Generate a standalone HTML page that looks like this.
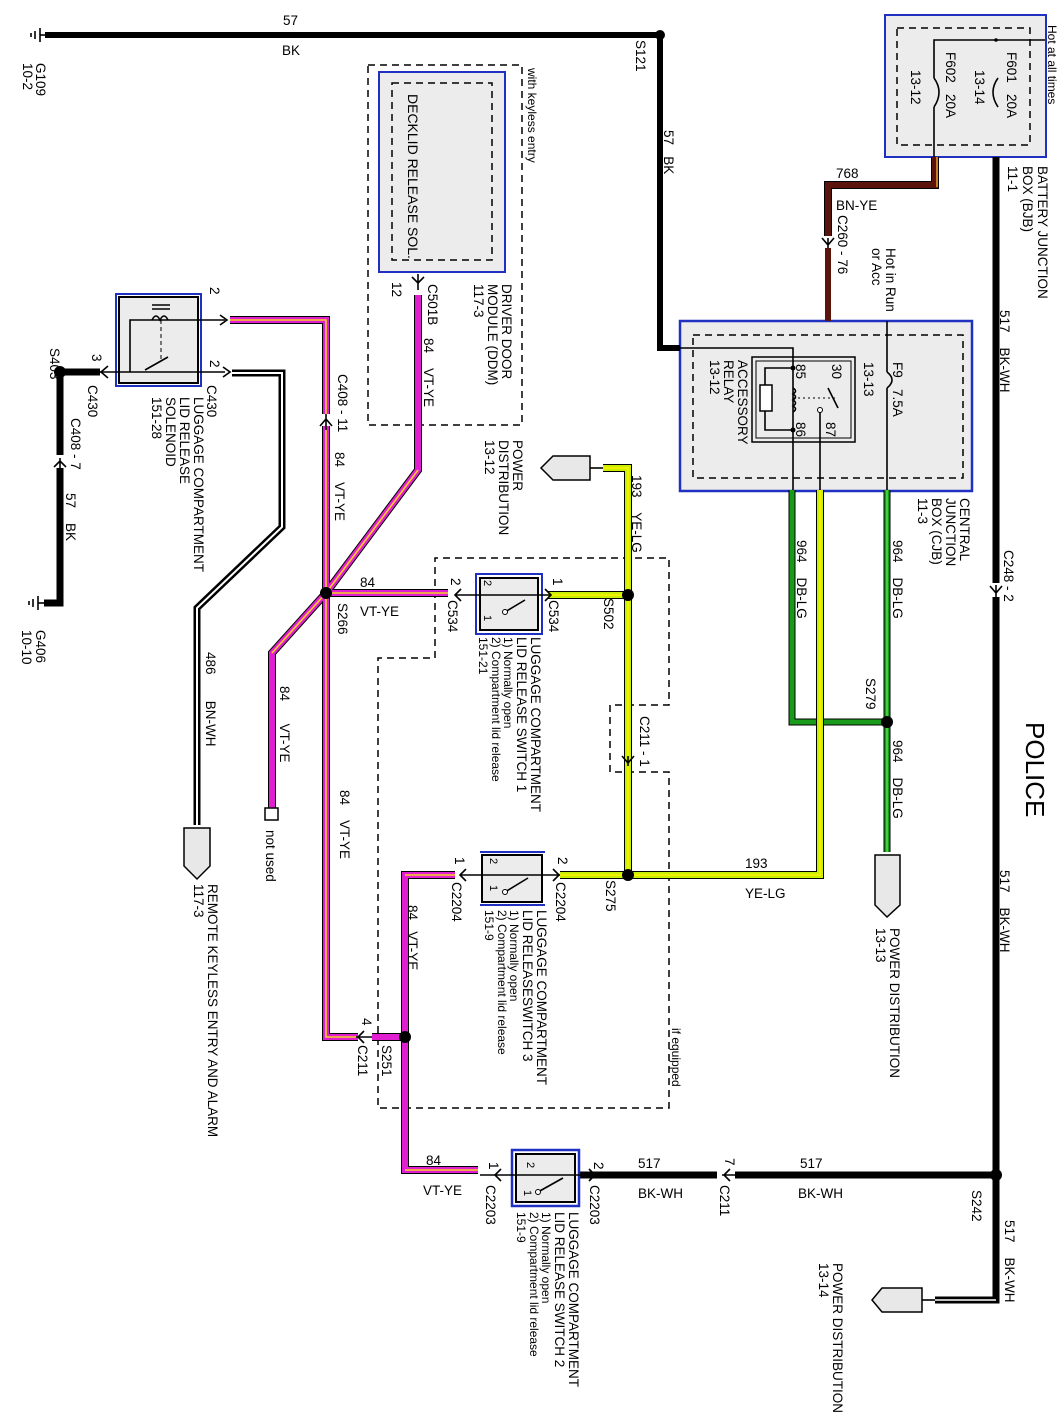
<!DOCTYPE html>
<html><head><meta charset="utf-8"><style>
html,body{margin:0;padding:0;background:#fff}
svg{display:block}
text{font-family:"Liberation Sans",Arial,sans-serif;font-size:13.5px;fill:#000;white-space:pre}
.o{fill:none;stroke:#000;stroke-width:8;stroke-linejoin:miter}
.vt{fill:none;stroke:#e020d0;stroke-width:6}
.ye{fill:none;stroke:#f5d020;stroke-width:1.6}
.lg{fill:none;stroke:#c8f000;stroke-width:6}
.yl{fill:none;stroke:#f0f000;stroke-width:2}
.dg{fill:none;stroke:#1a9a1a;stroke-width:5}
.lgs{fill:none;stroke:#50e050;stroke-width:1.5}
.bk{fill:none;stroke:#000;stroke-width:7}
.wh{fill:none;stroke:#fff;stroke-width:2}
.dash{fill:none;stroke:#000;stroke-width:1.5;stroke-dasharray:7,5}
.th{fill:none;stroke:#000;stroke-width:1.6}
.s{font-size:12px}
</style></head><body>
<svg width="1064" height="1428" viewBox="0 0 1064 1428" xmlns="http://www.w3.org/2000/svg">
<!-- boxes -->
<rect x="885" y="15" width="161" height="142" fill="#ececec" stroke="#2030c0" stroke-width="2"/>
<rect x="897" y="28" width="133" height="117" class="dash"/>
<rect x="680" y="321" width="292" height="170" fill="#ececec" stroke="#2030c0" stroke-width="2.5"/>
<rect x="693" y="335" width="270" height="143" class="dash"/>
<rect x="752" y="357" width="103" height="85" fill="none" stroke="#000" stroke-width="1.5"/>
<rect x="756" y="361" width="95" height="77" fill="none" stroke="#000" stroke-width="1"/>
<rect x="368" y="65" width="154" height="360" class="dash"/>
<rect x="379" y="72" width="126" height="200" fill="#ececec" stroke="#2030c0" stroke-width="2"/>
<rect x="392" y="83" width="100" height="177" class="dash"/>
<path d="M435,658 L435,558 L669,558 L669,705 L610,705 L610,772 L669,772 L669,1108 L378,1108 L378,658 Z" class="dash"/>

<!-- top BK wire -->
<polyline points="45,35 660,35 660,348 680,348" class="bk" style="stroke-width:6"/>
<polyline points="680,348 793,348 793,490" class="th"/>
<circle cx="660" cy="35" r="5"/>
<line x1="40" y1="28" x2="40" y2="42" class="th"/><line x1="40" y1="35" x2="48" y2="35" class="th"/>
<line x1="35" y1="31" x2="35" y2="39" class="th"/><line x1="31" y1="33" x2="31" y2="37" class="th"/>

<!-- BN-YE 768 -->
<polyline points="935,157 935,185 828,185 828,236" fill="none" stroke="#000" stroke-width="8"/>
<polyline points="935,157 935,185 828,185 828,236" fill="none" stroke="#5a140c" stroke-width="6"/>
<polyline points="937,157 937,187" fill="none" stroke="#f0a030" stroke-width="1.5"/>
<polyline points="828,248 828,321" fill="none" stroke="#5a140c" stroke-width="6"/>
<path d="M822,238 L828,245 L834,238 M828,238 L828,248" class="th"/>
<!-- BJB internal line -->
<polyline points="934,157 934,107" class="th"/>
<path d="M934,107 Q944,92 934,78" class="th"/>
<polyline points="934,78 934,40 1045,40" class="th"/>
<circle cx="996" cy="40" r="1.8"/>
<path d="M998,78 Q988,92 998,107" class="th"/>

<!-- BK-WH 517 main -->
<polyline points="996,157 996,583" class="bk"/>
<polyline points="996,597 996,1300 935,1300" class="bk"/>
<polyline points="996,1300 935,1300" class="wh" style="stroke-width:1.5"/>
<path d="M990,586 L996,593 L1002,586 M996,585 L996,597" class="th"/>
<circle cx="996" cy="1175" r="6"/>
<polyline points="580,1175 717,1175" class="bk"/>
<polyline points="735,1175 996,1175" class="bk"/>
<path d="M730,1169 L724,1175 L730,1181 M722,1175 L735,1175" class="th"/>

<!-- F9 fuse -->
<path d="M887,372 Q897,380 887,388" class="th"/>
<line x1="887" y1="321" x2="887" y2="372" class="th"/><line x1="887" y1="388" x2="887" y2="490" class="th"/>
<!-- relay internals -->
<polyline points="793,368 765,368 765,430 793,430" class="th"/>
<rect x="760" y="385" width="12" height="26" fill="#fff" stroke="#000" stroke-width="1.5"/>
<path d="M793,388 q5,3 0,6 q5,3 0,6 q5,3 0,6 q5,3 0,6" class="th"/>
<line x1="793" y1="398" x2="835" y2="398" stroke="#000" stroke-dasharray="2,3"/>
<line x1="828" y1="388" x2="838" y2="408" class="th"/>
<circle cx="820" cy="410" r="2.5" fill="#fff" stroke="#000"/>
<line x1="820" y1="412" x2="820" y2="490" class="th"/>
<circle cx="793" cy="368" r="2.5"/><circle cx="793" cy="430" r="2.5"/>

<!-- DB-LG -->
<polyline points="792,490 792,722 887,722" fill="none" stroke="#000" stroke-width="7"/>
<polyline points="792,490 792,722 887,722" class="dg"/>
<polyline points="887,490 887,852" fill="none" stroke="#000" stroke-width="7"/>
<polyline points="887,490 887,852" class="dg"/>
<polyline points="887,490 887,852" class="lgs"/>
<circle cx="887" cy="722" r="6"/>

<!-- YE-LG -->
<polyline points="603,468 628,468 628,875 820,875 820,490" class="o" style="stroke-width:8"/>
<polyline points="603,468 628,468 628,875 820,875 820,490" class="lg"/>
<polyline points="603,468 628,468 628,875 820,875 820,490" class="yl"/>
<polyline points="548,595 628,595" class="o"/><polyline points="548,595 628,595" class="lg"/><polyline points="548,595 628,595" class="yl"/>
<polyline points="560,875 628,875" class="o"/><polyline points="560,875 628,875" class="lg"/><polyline points="560,875 628,875" class="yl"/>
<circle cx="628" cy="595" r="6"/><circle cx="628" cy="875" r="6"/>
<path d="M622,756 L628,763 L634,756 M628,756 L628,766" class="th"/>

<!-- VT-YE wires -->
<g>
<polyline points="230,320 326,320 326,593" class="o"/>
<polyline points="418,295 418,470 326,593 272,653 272,815" class="o"/>
<polyline points="326,593 326,1037 358,1037" class="o"/>
<polyline points="372,1037 405,1037" class="o"/>
<polyline points="326,593 448,593" class="o"/>
<polyline points="455,875 405,875 405,1170 478,1170" class="o"/>
<polyline points="230,320 326,320 326,593" class="vt"/>
<polyline points="418,295 418,470 326,593 272,653 272,815" class="vt"/>
<polyline points="326,593 326,1037 358,1037" class="vt"/>
<polyline points="372,1037 405,1037" class="vt"/>
<polyline points="326,593 448,593" class="vt"/>
<polyline points="455,875 405,875 405,1170 478,1170" class="vt"/>
<polyline points="230,320 326,320 326,593" class="ye"/>
<polyline points="418,470 326,593 272,653" class="ye"/>
<polyline points="326,593 326,1037 358,1037" class="ye"/>
<polyline points="326,593 448,593" class="ye"/>
<polyline points="455,875 405,875" class="ye"/>
<polyline points="405,1170 478,1170" class="ye"/>
</g>
<rect x="265" y="808" width="13" height="12" fill="#fff" stroke="#000" stroke-width="1.5"/>
<rect x="319" y="414" width="14" height="12" fill="#fff"/>
<path d="M320,426 L326,419 L332,426 M326,414 L326,430" class="th"/>
<circle cx="326" cy="593" r="6"/><circle cx="405" cy="1037" r="6"/>
<path d="M364,1031 L358,1037 L364,1043 M356,1037 L372,1037" class="th"/>
<path d="M412,277 L418,283 L424,277 M418,274 L418,290" class="th"/>

<!-- BN-WH 486 -->
<polyline points="232,373 282,373 282,527 197,608 197,825" class="bk"/>
<polyline points="232,373 282,373 282,527 197,608 197,825" class="wh"/>
<path d="M184,828 L210,828 L210,866 L197,879 L184,866 Z" fill="#e8e8e8" stroke="#000" stroke-width="1.5"/>
<!-- S403 -->
<polyline points="60,372 100,372" class="bk"/>
<polyline points="60,372 60,455" class="bk"/><polyline points="60,468 60,603 44,603" class="bk"/>
<circle cx="60" cy="372" r="6"/>
<path d="M54,467 L60,461 L66,467 M60,458 L60,470" class="th"/>
<line x1="38" y1="596" x2="38" y2="610" class="th"/><line x1="33" y1="599" x2="33" y2="607" class="th"/><line x1="29" y1="601" x2="29" y2="605" class="th"/>
<line x1="38" y1="603" x2="44" y2="603" class="th"/>

<!-- solenoid -->
<rect x="116" y="294" width="85" height="92" fill="none" stroke="#2030c0" stroke-width="2"/>
<rect x="119" y="297" width="79" height="86" fill="#ececec" stroke="#000" stroke-width="2"/>
<polyline points="100,372 225,372" class="th"/>
<polyline points="130,372 130,320 225,320" class="th"/>
<path d="M152,320 q4,-8 8,0 q4,-8 8,0" class="th"/>
<line x1="152" y1="305" x2="170" y2="305" class="th"/><line x1="152" y1="309" x2="170" y2="309" class="th"/>
<line x1="161" y1="320" x2="161" y2="360" stroke="#000" stroke-dasharray="4,3"/>
<line x1="145" y1="370" x2="168" y2="357" class="th"/>
<path d="M220,315 L227,320 L220,325 M223,367 L230,372 L223,377 M108,366 L101,372 L108,378" class="th"/>

<!-- switches -->
<g>
<rect x="476" y="574" width="66" height="60" fill="none" stroke="#2030c0" stroke-width="2"/>
<rect x="480" y="578" width="58" height="52" fill="#ececec" stroke="#000" stroke-width="2"/>
<line x1="455" y1="595" x2="550" y2="595" class="th"/>
<line x1="505" y1="612" x2="525" y2="600" class="th"/><circle cx="505" cy="612" r="2.5" fill="#fff" stroke="#000"/>
<path d="M461,589 L455,595 L461,601 M545,589 L551,595 L545,601" class="th"/>
</g>
<g>
<line x1="480" y1="852" x2="545" y2="852" stroke="#2030c0" stroke-width="2"/>
<line x1="480" y1="905" x2="545" y2="905" stroke="#2030c0" stroke-width="2"/>
<rect x="482" y="855" width="60" height="47" fill="#ececec" stroke="#000" stroke-width="2"/>
<line x1="460" y1="875" x2="560" y2="875" class="th"/>
<line x1="505" y1="892" x2="528" y2="878" class="th"/><circle cx="505" cy="892" r="2.5" fill="#fff" stroke="#000"/>
<path d="M466,869 L460,875 L466,881 M553,869 L559,875 L553,881" class="th"/>
</g>
<g>
<rect x="512" y="1150" width="67" height="56" fill="none" stroke="#2030c0" stroke-width="2.5"/>
<rect x="516" y="1154" width="59" height="48" fill="#ececec" stroke="#000" stroke-width="2"/>
<line x1="480" y1="1175" x2="590" y2="1175" class="th"/>
<line x1="538" y1="1192" x2="563" y2="1178" class="th"/><circle cx="538" cy="1192" r="2.5" fill="#fff" stroke="#000"/>
<path d="M501,1169 L495,1175 L501,1181 M589,1169 L595,1175 L589,1181" class="th"/>
</g>

<!-- connector shapes -->
<path d="M590,456 L553,456 L541,468 L553,480 L590,480 Z" fill="#e8e8e8" stroke="#000" stroke-width="1.5"/>
<line x1="590" y1="468" x2="603" y2="468" class="th"/>
<path d="M875,855 L900,855 L900,905 L887,917 L875,905 Z" fill="#e8e8e8" stroke="#000" stroke-width="1.5"/>
<path d="M922,1288 L882,1288 L872,1300 L882,1312 L922,1312 Z" fill="#e8e8e8" stroke="#000" stroke-width="1.5"/>
<line x1="922" y1="1300" x2="935" y2="1300" class="th"/>

<!-- horizontal labels -->
<text x="283" y="25">57</text><text x="282" y="55">BK</text>
<text x="836" y="178">768</text><text x="836" y="210">BN-YE</text>
<text x="745" y="868">193</text><text x="745" y="898">YE-LG</text>
<text x="360" y="587">84</text><text x="360" y="616">VT-YE</text>
<text x="426" y="1165">84</text><text x="423" y="1195">VT-YE</text>
<text x="638" y="1168">517</text><text x="638" y="1198">BK-WH</text>
<text x="800" y="1168">517</text><text x="798" y="1198">BK-WH</text>

<!-- rotated labels -->
<g>
<text transform="translate(36,63) rotate(90)">G109</text>
<text transform="translate(23,63) rotate(90)">10-2</text>
<text transform="translate(1048,25) rotate(90)" class="s">Hot at all times</text>
<text transform="translate(1007,52) rotate(90)">F601   20A</text>
<text transform="translate(975,70) rotate(90)">13-14</text>
<text transform="translate(946,52) rotate(90)">F602   20A</text>
<text transform="translate(911,70) rotate(90)">13-12</text>
<text transform="translate(1038,166) rotate(90)">BATTERY JUNCTION</text>
<text transform="translate(1023,166) rotate(90)">BOX (BJB)</text>
<text transform="translate(1008,166) rotate(90)">11-1</text>
<text transform="translate(636,40) rotate(90)">S121</text>
<text transform="translate(664,130) rotate(90)">57   BK</text>
<text transform="translate(838,215) rotate(90)">C260 - 76</text>
<text transform="translate(886,248) rotate(90)">Hot in Run</text>
<text transform="translate(872,248) rotate(90)">or Acc</text>
<text transform="translate(1000,310) rotate(90)">517    BK-WH</text>
<text transform="translate(893,362) rotate(90)">F9   7.5A</text>
<text transform="translate(864,362) rotate(90)">13-13</text>
<text transform="translate(832,364) rotate(90)">30</text>
<text transform="translate(796,364) rotate(90)">85</text>
<text transform="translate(796,422) rotate(90)">86</text>
<text transform="translate(826,422) rotate(90)">87</text>
<text transform="translate(738,360) rotate(90)">ACCESSORY</text>
<text transform="translate(724,360) rotate(90)">RELAY</text>
<text transform="translate(710,360) rotate(90)">13-12</text>
<text transform="translate(960,498) rotate(90)">CENTRAL</text>
<text transform="translate(946,498) rotate(90)">JUNCTION</text>
<text transform="translate(932,498) rotate(90)">BOX (CJB)</text>
<text transform="translate(918,498) rotate(90)">11-3</text>
<text transform="translate(1004,550) rotate(90)">C248 - 2</text>
<text transform="translate(797,540) rotate(90)">964    DB-LG</text>
<text transform="translate(893,540) rotate(90)">964    DB-LG</text>
<text transform="translate(866,678) rotate(90)">S279</text>
<text transform="translate(893,740) rotate(90)">964    DB-LG</text>
<text transform="translate(1026,722) rotate(90)" style="font-size:26px">POLICE</text>
<text transform="translate(890,928) rotate(90)">POWER DISTRIBUTION</text>
<text transform="translate(876,928) rotate(90)">13-13</text>
<text transform="translate(1000,870) rotate(90)">517    BK-WH</text>
<text transform="translate(972,1190) rotate(90)">S242</text>
<text transform="translate(1005,1220) rotate(90)">517    BK-WH</text>
<text transform="translate(833,1263) rotate(90)">POWER DISTRIBUTION</text>
<text transform="translate(819,1263) rotate(90)">13-14</text>
<text transform="translate(725,1158) rotate(90)">7</text>
<text transform="translate(720,1185) rotate(90)">C211</text>
<text transform="translate(594,1162) rotate(90)">2</text>
<text transform="translate(590,1185) rotate(90)">C2203</text>
<text transform="translate(489,1162) rotate(90)">1</text>
<text transform="translate(486,1185) rotate(90)">C2203</text>
<text transform="translate(527,1162) rotate(90)" style="font-size:11px">2</text>
<text transform="translate(524,1190) rotate(90)" style="font-size:11px">1</text>
<text transform="translate(569,1212) rotate(90)">LUGGAGE COMPARTMENT</text>
<text transform="translate(555,1212) rotate(90)">LID RELEASE SWITCH 2</text>
<text transform="translate(542,1212) rotate(90)" class="s">1) Normally open</text>
<text transform="translate(530,1212) rotate(90)" class="s">2) Compartment lid release</text>
<text transform="translate(517,1212) rotate(90)" class="s">151-9</text>
<text transform="translate(537,910) rotate(90)">LUGGAGE COMPARTMENT</text>
<text transform="translate(523,910) rotate(90)">LID RELEASESWITCH 3</text>
<text transform="translate(510,910) rotate(90)" class="s">1) Normally open</text>
<text transform="translate(498,910) rotate(90)" class="s">2) Compartment lid release</text>
<text transform="translate(485,910) rotate(90)" class="s">151-9</text>
<text transform="translate(558,857) rotate(90)">2</text>
<text transform="translate(556,882) rotate(90)">C2204</text>
<text transform="translate(455,857) rotate(90)">1</text>
<text transform="translate(452,882) rotate(90)">C2204</text>
<text transform="translate(490,858) rotate(90)" style="font-size:11px">2</text>
<text transform="translate(490,885) rotate(90)" style="font-size:11px">1</text>
<text transform="translate(606,880) rotate(90)">S275</text>
<text transform="translate(408,905) rotate(90)">84   VT-YE</text>
<text transform="translate(672,1028) rotate(90)" class="s">if equipped</text>
<text transform="translate(382,1045) rotate(90)">S251</text>
<text transform="translate(362,1018) rotate(90)">4</text>
<text transform="translate(358,1045) rotate(90)">C211</text>
<text transform="translate(553,578) rotate(90)">1</text>
<text transform="translate(549,600) rotate(90)">C534</text>
<text transform="translate(451,578) rotate(90)">2</text>
<text transform="translate(448,600) rotate(90)">C534</text>
<text transform="translate(484,580) rotate(90)" style="font-size:11px">2</text>
<text transform="translate(484,615) rotate(90)" style="font-size:11px">1</text>
<text transform="translate(604,598) rotate(90)">S502</text>
<text transform="translate(531,637) rotate(90)">LUGGAGE COMPARTMENT</text>
<text transform="translate(517,637) rotate(90)">LID RELEASE SWITCH 1</text>
<text transform="translate(504,637) rotate(90)" class="s">1) Normally open</text>
<text transform="translate(492,637) rotate(90)" class="s">2) Compartment lid release</text>
<text transform="translate(479,637) rotate(90)" class="s">151-21</text>
<text transform="translate(640,716) rotate(90)">C211 - 1</text>
<text transform="translate(632,475) rotate(90)">193    YE-LG</text>
<text transform="translate(513,440) rotate(90)">POWER</text>
<text transform="translate(499,440) rotate(90)">DISTRIBUTION</text>
<text transform="translate(485,440) rotate(90)">13-12</text>
<text transform="translate(528,68) rotate(90)" class="s">with keyless entry</text>
<text transform="translate(408,94) rotate(90)" style="font-size:14px">DECKLID RELEASE SOL.</text>
<text transform="translate(502,284) rotate(90)">DRIVER DOOR</text>
<text transform="translate(488,284) rotate(90)">MODULE (DDM)</text>
<text transform="translate(474,284) rotate(90)">117-3</text>
<text transform="translate(428,284) rotate(90)">C501B</text>
<text transform="translate(392,282) rotate(90)">12</text>
<text transform="translate(424,338) rotate(90)">84    VT-YE</text>
<text transform="translate(338,374) rotate(90)">C408 - 11</text>
<text transform="translate(335,452) rotate(90)">84    VT-YE</text>
<text transform="translate(338,603) rotate(90)">S266</text>
<text transform="translate(340,790) rotate(90)">84    VT-YE</text>
<text transform="translate(280,686) rotate(90)">84      VT-YE</text>
<text transform="translate(266,830) rotate(90)">not used</text>
<text transform="translate(206,652) rotate(90)">486       BN-WH</text>
<text transform="translate(208,884) rotate(90)">REMOTE KEYLESS ENTRY AND ALARM</text>
<text transform="translate(194,884) rotate(90)">117-3</text>
<text transform="translate(210,287) rotate(90)">2</text>
<text transform="translate(210,360) rotate(90)">2</text>
<text transform="translate(207,385) rotate(90)">C430</text>
<text transform="translate(194,397) rotate(90)">LUGGAGE COMPARTMENT</text>
<text transform="translate(180,397) rotate(90)">LID RELEASE</text>
<text transform="translate(166,397) rotate(90)">SOLENOID</text>
<text transform="translate(152,397) rotate(90)">151-28</text>
<text transform="translate(92,354) rotate(90)">3</text>
<text transform="translate(88,385) rotate(90)">C430</text>
<text transform="translate(50,348) rotate(90)">S403</text>
<text transform="translate(71,418) rotate(90)">C408 - 7</text>
<text transform="translate(66,493) rotate(90)">57    BK</text>
<text transform="translate(36,630) rotate(90)">G406</text>
<text transform="translate(22,630) rotate(90)">10-10</text>
</g>
</svg>
</body></html>
